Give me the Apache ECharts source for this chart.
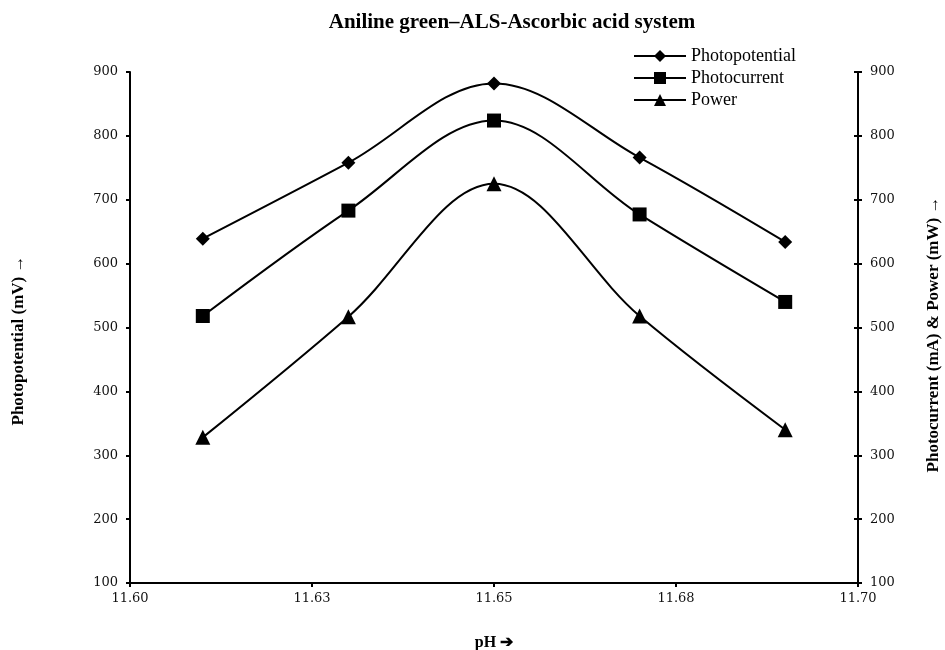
<!DOCTYPE html>
<html>
<head>
<meta charset="utf-8">
<script src="https://cdn.jsdelivr.net/npm/echarts@6/dist/echarts.min.js"></script>
<style>html,body{margin:0;padding:0;background:#fff;}#c{width:945px;height:650px;}</style>
</head>
<body>
<div id="c"></div>
<script>
const pH = [11.61, 11.63, 11.65, 11.67, 11.69];
const photopotential = [639, 758, 882, 766, 634];
const photocurrent = [518, 683, 824, 677, 540];
const power = [328, 517, 725, 518, 340];
const xTickLabels = ['11.60', '11.63', '11.65', '11.68', '11.70'];
const yTickLabels = ['100','200','300','400','500','600','700','800','900'];

const SERIF = 'Liberation Serif';
const TICKFONT = 'DejaVu Serif';
const chart = echarts.init(document.getElementById('c'));
function pairs(ys){ return ys.map((y,i)=>[pH[i], y]); }
const lineStyle = {color:'#000', width:2};
const nameStyle = {fontFamily:SERIF, fontWeight:'bold', fontSize:17, color:'#000'};
const tickLabel = {fontFamily:TICKFONT, fontSize:13, color:'#111', margin:12,
  formatter:(v)=>yTickLabels[Math.round((v-100)/100)]};
chart.setOption({
  animation:false,
  backgroundColor:'#fff',
  title:{
    text:'Aniline green–ALS-Ascorbic acid system',
    left:512, textAlign:'center', top:12, padding:0,
    textStyle:{fontFamily:SERIF, fontWeight:'bold', fontSize:21, color:'#000'}
  },
  legend:{
    orient:'vertical', left:633, top:47, padding:0, itemWidth:52, itemHeight:15, itemGap:4,
    textStyle:{fontFamily:SERIF, fontSize:18, color:'#000'},
    data:['Photopotential','Photocurrent','Power']
  },
  grid:{left:130, right:87, top:72, bottom:67, outerBoundsMode:'none', containLabel:false},
  xAxis:{
    type:'value', min:11.6, max:11.7, interval:0.025,
    name:'pH ➔', nameLocation:'middle', nameGap:52,
    nameTextStyle:{fontFamily:SERIF, fontWeight:'bold', fontSize:16, color:'#000'},
    axisLine:{lineStyle:{color:'#000', width:2}},
    axisTick:{length:4, lineStyle:{color:'#000', width:2}},
    axisLabel:{fontFamily:TICKFONT, fontSize:13, color:'#111', margin:9,
      formatter:(v)=>xTickLabels[Math.round((v-11.6)/0.025)]},
    splitLine:{show:false}
  },
  yAxis:[
    {type:'value', min:100, max:900, interval:100, position:'left',
     name:'Photopotential (mV) →', nameLocation:'middle', nameGap:103, nameRotate:90,
     nameTextStyle:Object.assign({padding:[0,26,0,0]}, nameStyle),
     axisLine:{show:true, lineStyle:{color:'#000', width:2}},
     axisTick:{show:true, length:4, lineStyle:{color:'#000', width:2}},
     axisLabel:tickLabel,
     splitLine:{show:false}},
    {type:'value', min:100, max:900, interval:100, position:'right',
     name:'Photocurrent (mA) & Power (mW) →', nameLocation:'middle', nameGap:67, nameRotate:90,
     nameTextStyle:Object.assign({padding:[0,14,0,0]}, nameStyle),
     axisLine:{show:true, lineStyle:{color:'#000', width:2}},
     axisTick:{show:true, length:4, lineStyle:{color:'#000', width:2}},
     axisLabel:tickLabel,
     splitLine:{show:false}},
    {type:'value', min:100, max:900, interval:100, position:'right',
     axisLine:{show:false},
     axisTick:{show:true, inside:true, length:4, lineStyle:{color:'#000', width:2}},
     axisLabel:{show:false},
     splitLine:{show:false}}
  ],
  series:[
    {name:'Photopotential', type:'line', yAxisIndex:0, data:pairs(photopotential), smooth:0.35,
     symbol:'diamond', symbolSize:14, itemStyle:{color:'#000'}, lineStyle:lineStyle},
    {name:'Photocurrent', type:'line', yAxisIndex:1, data:pairs(photocurrent), smooth:0.35,
     symbol:'rect', symbolSize:14, itemStyle:{color:'#000'}, lineStyle:lineStyle},
    {name:'Power', type:'line', yAxisIndex:1, data:pairs(power), smooth:0.35,
     symbol:'triangle', symbolSize:15, itemStyle:{color:'#000'}, lineStyle:lineStyle}
  ]
});
</script>
</body>
</html>
